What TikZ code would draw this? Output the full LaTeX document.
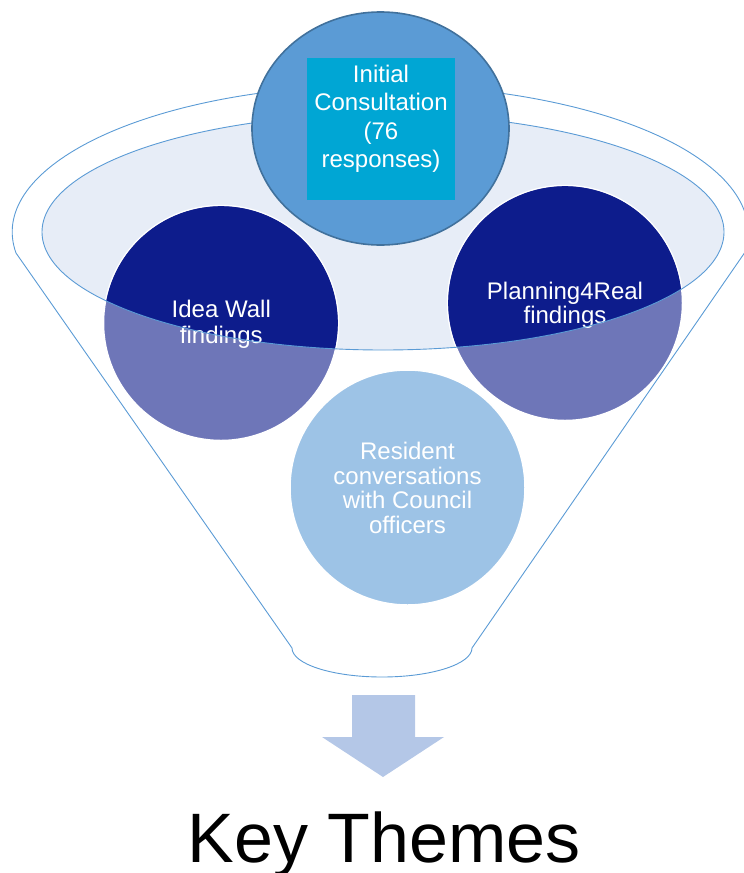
\documentclass[tikz,border=0pt]{standalone}
\usepackage{fontspec}
\setmainfont{Liberation Sans}
\usetikzlibrary{shapes.geometric}
\definecolor{funnelblue}{HTML}{5B9BD5}
\definecolor{ellfill}{HTML}{E7EDF7}
\definecolor{topfill}{HTML}{5B9BD5}
\definecolor{topborder}{HTML}{41719C}
\definecolor{boxcyan}{HTML}{00A6D4}
\definecolor{navy}{HTML}{0D1C8C}
\definecolor{lavender}{HTML}{6E76B8}
\definecolor{paleblue}{HTML}{9DC3E6}
\definecolor{arrowblue}{HTML}{B4C7E7}
\tikzset{
  funnelline/.style={draw=funnelblue, line width=0.9pt},
  bubble/.style={circle, minimum size=235pt, inner sep=0pt, draw=white, line width=1.5pt},
  lbl/.style={text=white, align=center, inner sep=0pt, anchor=north},
}
\begin{document}
\begin{tikzpicture}[x=1pt,y=-1pt]
\useasboundingbox (0,0) rectangle (744,873);
% funnel outline
\draw[funnelline] (16,253) arc[start angle=171.8, end angle=368.2, x radius=368, y radius=147]
  -- (472,648) arc[start angle=0, end angle=180, x radius=90, y radius=29] -- cycle;
% inner rim fill
\fill[ellfill] (383,232) ellipse[x radius=341, y radius=118];
% circles
\node[bubble, fill=lavender] (idea) at (221,323) {};
\node[bubble, fill=lavender] (plan) at (565,303) {};
\node[bubble, fill=paleblue] (resident) at (407.5,487.5) {};
\begin{scope}
  \clip (383,232) ellipse[x radius=341, y radius=118];
  \fill[navy] (idea.center) circle[radius=116.8];
  \fill[navy] (plan.center) circle[radius=116.8];
\end{scope}
% labels
\node[lbl, font=\fontsize{24}{26}\selectfont] (idealbl) at (221.3,299.8) {Idea Wall\\findings};
\node[lbl, font=\fontsize{24}{24.5}\selectfont] (planlbl) at (565,281.8) {Planning4Real\\findings};
\node[lbl, font=\fontsize{24}{24.7}\selectfont] (reslbl) at (407.5,441.8) {Resident\\conversations\\with Council\\officers};
% rim stroke
\draw[funnelblue, line width=0.9pt] (383,232) ellipse[x radius=341, y radius=118];
% top consultation
\node[ellipse, minimum width=257pt, minimum height=233pt, inner sep=0pt, fill=topfill, draw=topborder, line width=1.6pt] (top) at (380.5,128.5) {};
\node[rectangle, minimum width=148pt, minimum height=142pt, inner sep=0pt, fill=boxcyan] (box) at (381,129) {};
\node[lbl, font=\fontsize{24}{28.5}\selectfont] (toplbl) at (381,64.8) {Initial\\Consultation\\(76\\responses)};
% arrow
\fill[arrowblue] (352,695) -- (415,695) -- (415,737) -- (444,737) -- (383,777) -- (322,737) -- (352,737) -- cycle;
% result
\node[anchor=base, inner sep=0pt, font=\fontsize{70}{80}\selectfont, text=black] (themes) at (384,862) {Key Themes};
\end{tikzpicture}
\end{document}
